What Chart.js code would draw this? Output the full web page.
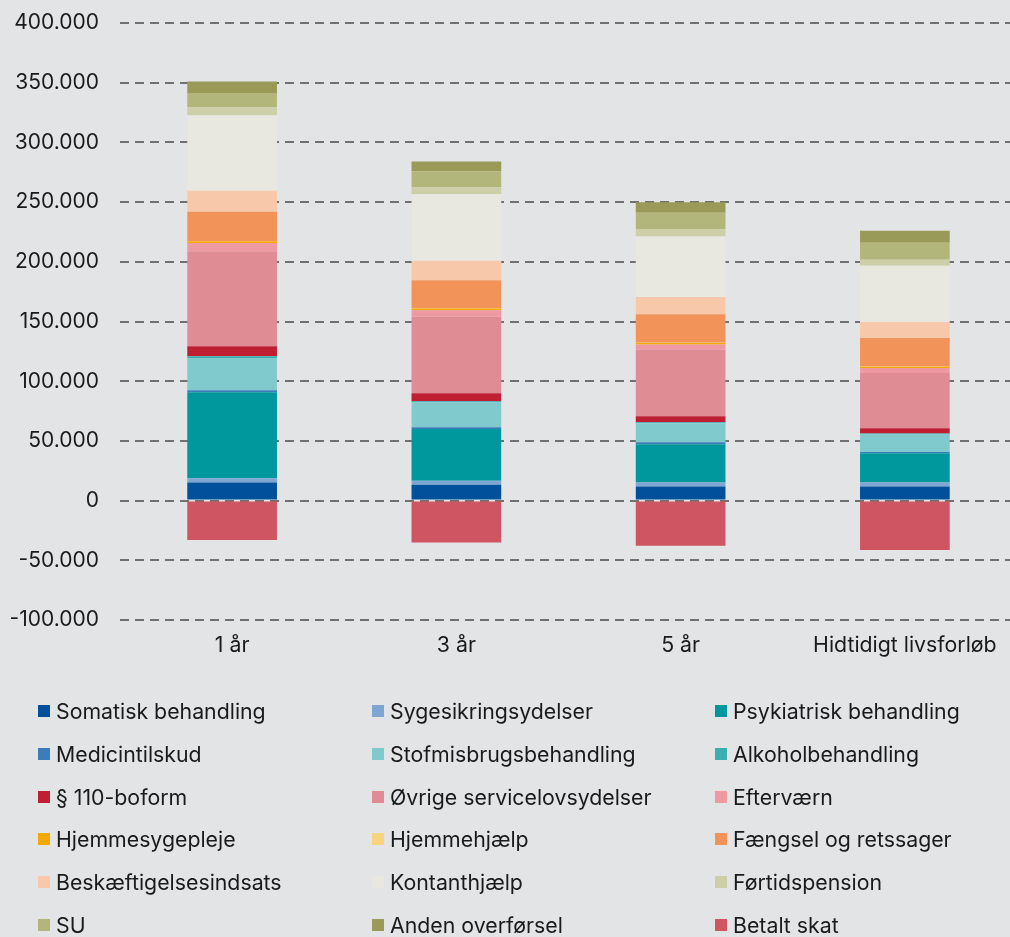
<!DOCTYPE html>
<html>
<head>
<meta charset="utf-8">
<script src="https://cdn.jsdelivr.net/npm/chart.js@4/dist/chart.umd.min.js"></script>
<style>
  html, body { margin:0; padding:0; background:#e3e4e6; overflow:hidden; width:1010px; height:937px; }
  #wrap { position:absolute; left:0; top:0; width:1020px; height:670px; }
  #legend { position:absolute; left:0; top:0; width:1010px; height:937px; pointer-events:none;
    font-family: Inter, "Noto Sans", sans-serif; font-size:21.3px; color:#1a1a1a; }
  .li { position:absolute; white-space:nowrap; line-height:24px; }
  .sw { position:absolute; width:12px; height:12px; left:0; top:6px; }
  .tx { position:absolute; left:18px; top:0; }
</style>
</head>
<body>
<div id="wrap"><canvas id="c" width="1020" height="670"></canvas></div>
<div id="legend"></div>
<script>
const categories = ["1 år", "3 år", "5 år", "Hidtidigt livsforløb"];
const seriesNames = ["Somatisk behandling","Sygesikringsydelser","Psykiatrisk behandling","Medicintilskud","Stofmisbrugsbehandling","Alkoholbehandling","§ 110-boform","Øvrige servicelovsydelser","Efterværn","Hjemmesygepleje","Hjemmehjælp","Fængsel og retssager","Beskæftigelsesindsats","Kontanthjælp","Førtidspension","SU","Anden overførsel","Betalt skat"];
const somatisk      = [15100, 13200, 11800, 11800];
const sygesikring   = [3600, 3400, 3400, 3400];
const psykiatrisk   = [72000, 43400, 31900, 24400];
const medicin       = [1700, 1400, 1700, 1100];
const stofmisbrug   = [27000, 21000, 16000, 14600];
const alkohol       = [1400, 800, 800, 800];
const boform110     = [8400, 6700, 5000, 4500];
const oevrige       = [79600, 64100, 55700, 46200];
const eftervaern    = [7000, 5400, 4500, 4200];
const hjemmesyg     = [1500, 1500, 1100, 1200];
const hjemmehjaelp  = [200, 200, 200, 200];
const faengsel      = [24400, 23500, 23900, 23800];
const beskaeft      = [17600, 16200, 14500, 13400];
const kontant       = [63000, 55700, 50700, 47100];
const foertid       = [7000, 5900, 6200, 5000];
const su            = [11800, 13400, 13700, 14300];
const anden         = [9800, 8200, 8700, 10100];
const betaltSkat    = [-33000, -35000, -37800, -41400];
const yTicks = [-100000, -50000, 0, 50000, 100000, 150000, 200000, 250000, 300000, 350000, 400000];

const colors = ["#00509b","#7ea6d2","#00989c","#3b7dba","#80cacd","#3aafb0","#c01f33","#e08c95","#ef9aa3","#f5a800","#f9d47f","#f2945a","#f8c8aa","#e8e7e0","#cdcfa8","#b3b67a","#9a9a58","#cf5563"];
const allData = [somatisk,sygesikring,psykiatrisk,medicin,stofmisbrug,alkohol,boform110,oevrige,eftervaern,hjemmesyg,hjemmehjaelp,faengsel,beskaeft,kontant,foertid,su,anden,betaltSkat];

const FONT = "Inter, 'Noto Sans', sans-serif";
const fmt = v => v < 0 ? "-" + Math.abs(v).toLocaleString("da-DK") : v.toLocaleString("da-DK");

const chart = new Chart(document.getElementById("c"), {
  type: "bar",
  data: {
    labels: categories,
    datasets: allData.map((d, i) => ({
      label: seriesNames[i], data: d, backgroundColor: colors[i], borderWidth: 0,
      barPercentage: 0.4, categoryPercentage: 1.0
    }))
  },
  options: {
    responsive: false, animation: false,
    layout: { padding: { top: 23, right: 3, left: 0, bottom: 0 } },
    plugins: { legend: { display: false }, tooltip: { enabled: false } },
    scales: {
      x: {
        stacked: true,
        grid: { display: false, drawTicks: false },
        border: { display: false },
        ticks: { color: "#1a1a1a", font: { family: FONT, size: 21.3 }, padding: 13 },
        afterFit: s => { s.height = 50; s.paddingLeft = 0; s.paddingRight = 0; }
      },
      y: {
        stacked: true, min: -100000, max: 400000,
        afterBuildTicks: s => { s.ticks = yTicks.map(v => ({ value: v })); },
        grid: { color: "#707070", lineWidth: 2, drawTicks: false },
        border: { display: false, dash: [9, 6] },
        ticks: { color: "#1a1a1a", font: { family: FONT, size: 21 }, padding: 21, callback: v => fmt(v) },
        afterFit: s => { s.width = 120; s.paddingTop = 0; s.paddingBottom = 0; }
      }
    }
  }
});

// HTML legend built from chart datasets
const leg = document.getElementById("legend");
const colX = [38, 372, 715];
chart.data.datasets.forEach((ds, i) => {
  const col = i % 3, row = Math.floor(i / 3);
  const el = document.createElement("div");
  el.className = "li";
  el.style.left = colX[col] + "px";
  el.style.top = (699 + row * 42.8) + "px";
  el.innerHTML = '<span class="sw" style="background:' + ds.backgroundColor + '"></span><span class="tx"></span>';
  el.querySelector(".tx").textContent = ds.label;
  leg.appendChild(el);
});
</script>
</body>
</html>
